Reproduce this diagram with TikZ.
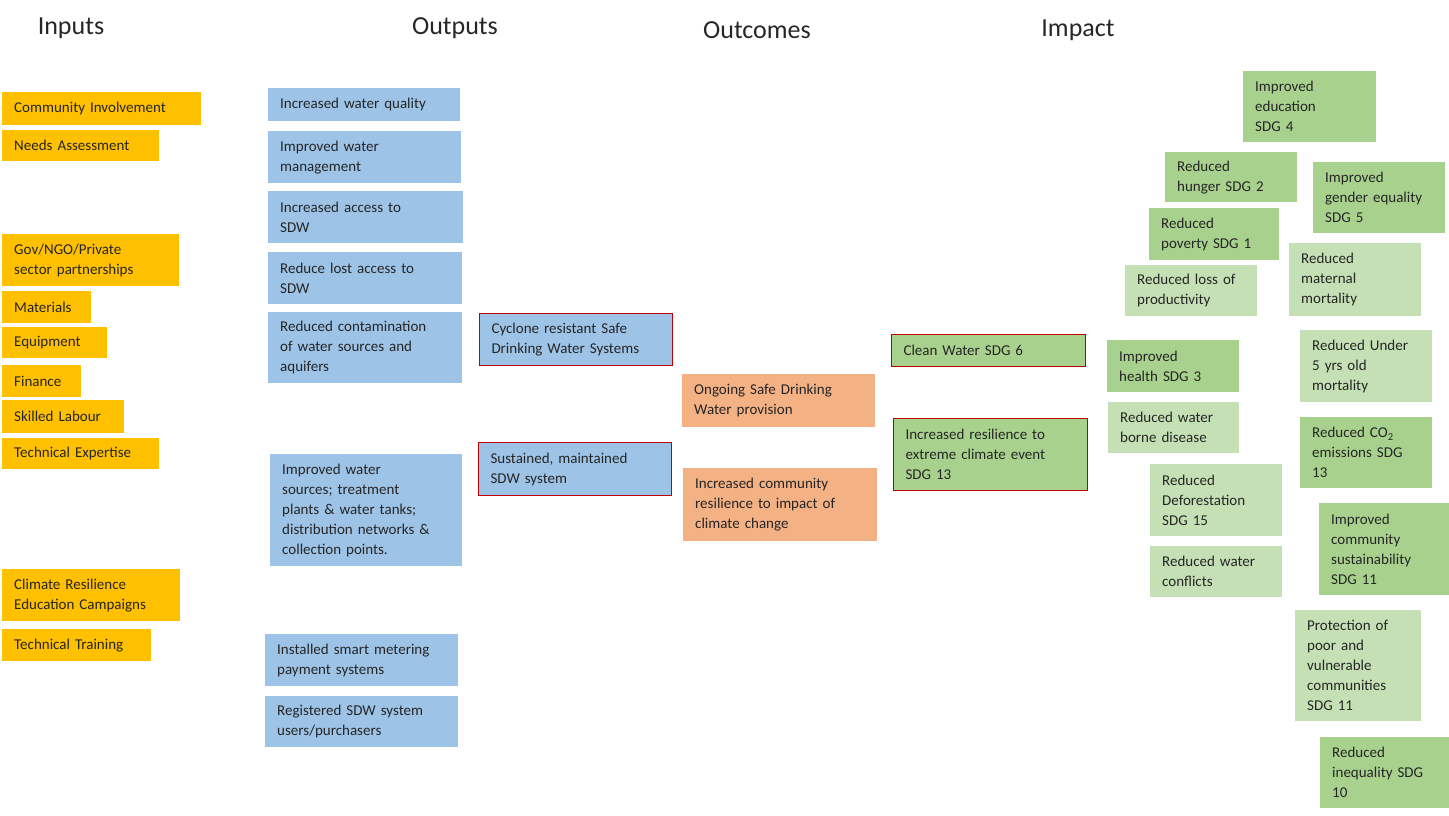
\documentclass[tikz,border=0pt]{standalone}
\usepackage{fontspec}
\setmainfont{Carlito}
\definecolor{inp}{HTML}{FFC000}
\definecolor{outp}{HTML}{9DC3E6}
\definecolor{outc}{HTML}{F4B183}
\definecolor{grn}{HTML}{A9D18E}
\definecolor{lgrn}{HTML}{C5E0B4}
\definecolor{redb}{HTML}{C00000}
\tikzset{
 base/.style={anchor=north west, inner xsep=12pt, inner ysep=0pt, align=left, font=\fontsize{15}{20}\selectfont, text=black!85},
 inb/.style={base, fill=inp},
 op/.style={base, fill=outp},
 oc/.style={base, fill=outc},
 gr/.style={base, fill=grn},
 lg/.style={base, fill=lgrn},
 rb/.style={draw=redb, line width=1pt},
 head/.style={font=\fontsize{26}{30}\selectfont, text=black!85}
}
\newcommand\mybx[7]{%
 \pgfmathsetmacro\bw{#4-#2}\pgfmathsetmacro\bh{#5-#3}\pgfmathsetmacro\tw{#4-#2-22}%
 \node[#6, minimum width=\bw pt, minimum height=\bh pt, text width=\tw pt] (#1) at (#2,#3) {#7};}
\begin{document}
\begin{tikzpicture}[x=1pt,y=-1pt]
\useasboundingbox (0,0) rectangle (1449,815);
\node[head] (h1) at (71,28) {Inputs};
\node[head] (h2) at (455,28) {Outputs};
\node[head] (h3) at (757,30) {Outcomes};
\node[head] (h4) at (1078,30) {Impact};
% inputs
\mybx{i1}{2}{92}{199}{125}{inb}{Community Involvement}
\mybx{i2}{2}{130}{157}{161}{inb}{Needs Assessment}
\mybx{i3}{2}{234}{177}{286}{inb}{Gov/NGO/Private\\sector partnerships}
\mybx{i4}{2}{291}{89}{323}{inb}{Materials}
\mybx{i5}{2}{327}{105}{358}{inb}{Equipment}
\mybx{i6}{2}{365}{79}{397}{inb}{Finance}
\mybx{i7}{2}{400}{122}{433}{inb}{Skilled Labour}
\mybx{i8}{2}{438}{157}{469}{inb}{Technical Expertise}
\mybx{i9}{2}{569}{178}{621}{inb}{Climate Resilience\\Education Campaigns}
\mybx{i10}{2}{629}{149}{661}{inb}{Technical Training}
% outputs
\mybx{o1}{268}{88}{458}{121}{op}{Increased water quality}
\mybx{o2}{268}{131}{459}{183}{op}{Improved water\\management}
\mybx{o3}{268}{191}{461}{243}{op}{Increased access to\\SDW}
\mybx{o4}{268}{252}{460}{304}{op}{Reduce lost access to\\SDW}
\mybx{o5}{268}{312}{460}{383}{op}{Reduced contamination\\of water sources and\\aquifers}
\mybx{o6}{270}{454}{460}{566}{op}{Improved water\\sources; treatment\\plants \& water tanks;\\distribution networks \&\\collection points.}
\mybx{o7}{265}{634}{456}{686}{op}{Installed smart metering\\payment systems}
\mybx{o8}{265}{696}{456}{747}{op}{Registered SDW system\\users/purchasers}
\mybx{o9}{479}{313}{670}{365}{op,rb}{Cyclone resistant Safe\\Drinking Water Systems}
\mybx{o10}{478}{442}{669}{495}{op,rb}{Sustained, maintained\\SDW system}
% outcomes
\mybx{c1}{682}{374}{873}{427}{oc}{Ongoing Safe Drinking\\Water provision}
\mybx{c2}{683}{468}{875}{541}{oc}{Increased community\\resilience to impact of\\climate change}
% impact
\mybx{m1}{891}{334}{1083}{366}{gr,rb}{Clean Water SDG 6}
\mybx{m2}{893}{418}{1085}{490}{gr,rb}{Increased resilience to\\extreme climate event\\SDG 13}
\mybx{m3}{1243}{71}{1374}{142}{gr}{Improved\\education\\SDG 4}
\mybx{m4}{1165}{152}{1295}{202}{gr}{Reduced\\hunger SDG 2}
\mybx{m5}{1313}{162}{1443}{233}{gr}{Improved\\gender equality\\SDG 5}
\mybx{m6}{1149}{208}{1277}{260}{gr}{Reduced\\poverty SDG 1}
\mybx{m7}{1125}{265}{1255}{316}{lg}{Reduced loss of\\productivity}
\mybx{m8}{1289}{243}{1419}{316}{lg}{Reduced\\maternal\\mortality}
\mybx{m9}{1107}{340}{1237}{392}{gr}{Improved\\health SDG 3}
\mybx{m10}{1300}{330}{1430}{402}{lg}{Reduced Under\\5 yrs old\\mortality}
\mybx{m11}{1108}{402}{1237}{453}{lg}{Reduced water\\borne disease}
\mybx{m12}{1300}{417}{1430}{488}{gr}{Reduced CO\textsubscript{2}\\emissions SDG\\13}
\mybx{m13}{1150}{464}{1280}{536}{lg}{Reduced\\Deforestation\\SDG 15}
\mybx{m14}{1319}{503}{1449}{595}{gr}{Improved\\community\\sustainability\\SDG 11}
\mybx{m15}{1150}{546}{1280}{597}{lg}{Reduced water\\conflicts}
\mybx{m16}{1295}{610}{1419}{721}{lg}{Protection of\\poor and\\vulnerable\\communities\\SDG 11}
\mybx{m17}{1320}{737}{1449}{808}{gr}{Reduced\\inequality SDG\\10}
\end{tikzpicture}
\end{document}
